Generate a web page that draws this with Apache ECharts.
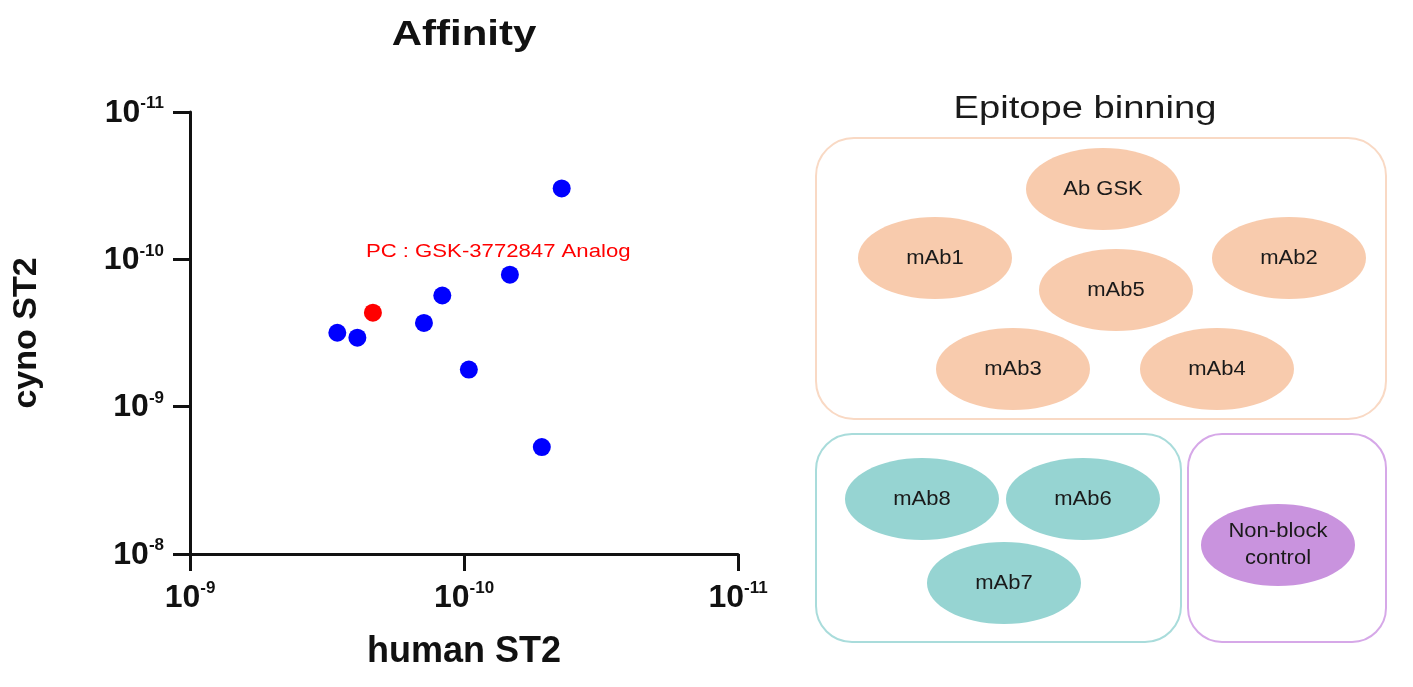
<!DOCTYPE html>
<html>
<head>
<meta charset="utf-8">
<script src="https://cdn.jsdelivr.net/npm/echarts@6/dist/echarts.min.js"></script>
<style>
html,body{margin:0;padding:0;background:#fff;}
#main{width:1413px;height:687px;}
</style>
</head>
<body>
<div id="main"></div>
<script>
// ---- data ----
var humanKD = [4.4e-11, 6.8e-11, 1.2e-10, 1.4e-10, 2.9e-10, 2.45e-10, 9.6e-11, 5.2e-11];
var cynoKD  = [3.3e-11, 1.27e-10, 1.76e-10, 2.7e-10, 3.15e-10, 3.4e-10, 5.6e-10, 1.88e-9];
var pcHuman = [2.15e-10];
var pcCyno  = [2.3e-10];
var pcLabel = 'PC : GSK-3772847 Analog';
var xTicks = [1e-9, 1e-10, 1e-11];
var yTicks = [1e-8, 1e-9, 1e-10, 1e-11];
var chartTitle = 'Affinity';
var xName = 'human ST2';
var yName = 'cyno ST2';

var binTitle = 'Epitope binning';
var bin1 = ['Ab GSK', 'mAb1', 'mAb2', 'mAb5', 'mAb3', 'mAb4'];
var bin2 = ['mAb8', 'mAb6', 'mAb7'];
var bin3 = ['Non-block\ncontrol'];

// ---- layout (positions / styles) ----
var bin1Pos = [[1103,189],[935,258],[1289,258],[1116,290],[1013,369],[1217,369]];
var bin2Pos = [[922,499],[1083,499],[1004,583]];
var bin3Pos = [[1278,545]];
var FONT = 'Liberation Sans, Arial, sans-serif';

function expLabel(v){
  var e = Math.round(Math.log(v)/Math.LN10);
  return '{a|10}{b|' + e + '}';
}
var richLab = {
  a:{fontFamily:FONT, fontWeight:'bold', fontSize:32, color:'#111', verticalAlign:'bottom', lineHeight:34},
  b:{fontFamily:FONT, fontWeight:'bold', fontSize:17, color:'#111', verticalAlign:'top', lineHeight:34, padding:[0,0,14,0]}
};

var graphics = [];
graphics.push({type:'text', x:464, y:35, scaleX:1.2, style:{text:chartTitle, fontFamily:FONT, fontWeight:'bold', fontSize:35, fill:'#111', align:'center', verticalAlign:'middle'}});
graphics.push({type:'text', x:1085, y:109, scaleX:1.23, style:{text:binTitle, fontFamily:FONT, fontSize:31, fill:'#1a1a1a', align:'center', verticalAlign:'middle'}});
function box(x,y,w,h,stroke,r){
  graphics.push({type:'rect', shape:{x:x,y:y,width:w,height:h,r:r}, style:{fill:'none', stroke:stroke, lineWidth:2}});
}
function ell(cx,cy,fill,text){
  graphics.push({type:'ellipse', shape:{cx:cx,cy:cy,rx:77,ry:41}, style:{fill:fill, stroke:null}});
  graphics.push({type:'text', x:cx, y:cy, scaleX:1.1, style:{text:text, fontFamily:FONT, fontSize:20, lineHeight:27, fill:'#1a1a1a', align:'center', verticalAlign:'middle'}});
}
box(816,138,570,281,'#F9D9C4',38);
box(816,434,365,208,'#A9DCDB',36);
box(1188,434,198,208,'#D6A8E8',34);
bin1.forEach(function(t,i){ell(bin1Pos[i][0],bin1Pos[i][1],'#F8CBAD',t);});
bin2.forEach(function(t,i){ell(bin2Pos[i][0],bin2Pos[i][1],'#96D4D2',t);});
bin3.forEach(function(t,i){ell(bin3Pos[i][0],bin3Pos[i][1],'#C993DE',t);});

var chart = echarts.init(document.getElementById('main'));
chart.setOption({
  animation:false,
  backgroundColor:'#fff',
  grid:{left:190, top:112, width:548, height:442, containLabel:false},
  xAxis:{
    type:'log', logBase:10, min:xTicks[2], max:xTicks[0], inverse:true,
    name:xName, nameLocation:'middle', nameGap:80,
    nameTextStyle:{fontFamily:FONT, fontWeight:'bold', fontSize:36, color:'#111'},
    axisLine:{show:true, lineStyle:{color:'#111', width:3}},
    axisTick:{show:true, length:17, lineStyle:{color:'#111', width:3}},
    axisLabel:{formatter:expLabel, rich:richLab, margin:26},
    splitLine:{show:false}, minorTick:{show:false}
  },
  yAxis:{
    type:'log', logBase:10, min:yTicks[3], max:yTicks[0], inverse:true,
    name:yName, nameLocation:'middle', nameGap:146,
    nameTextStyle:{fontFamily:FONT, fontWeight:'bold', fontSize:34, color:'#111'},
    axisLine:{show:true, lineStyle:{color:'#111', width:3}},
    axisTick:{show:true, length:17, lineStyle:{color:'#111', width:3}},
    axisLabel:{formatter:expLabel, rich:richLab, margin:26},
    splitLine:{show:false}, minorTick:{show:false}
  },
  series:[
    {type:'scatter', symbolSize:18, itemStyle:{color:'#0000FF', opacity:1},
     data:humanKD.map(function(h,i){return [h, cynoKD[i]];})},
    {type:'scatter', symbolSize:18, itemStyle:{color:'#FF0000', opacity:1},
     data:pcHuman.map(function(h,i){return [h, pcCyno[i]];})}
  ],
  graphic:graphics
});
// annotation placed via the chart's own scales
var pcPix = chart.convertToPixel({seriesIndex:1}, [pcHuman[0], pcCyno[0]]);
graphics.push({type:'text', x:pcPix[0]-7, y:pcPix[1]-61, scaleX:1.23,
  style:{text:pcLabel, fontFamily:FONT, fontSize:18, fill:'#FF0000', align:'left', verticalAlign:'middle'}});
chart.setOption({graphic:graphics});
</script>
</body>
</html>
